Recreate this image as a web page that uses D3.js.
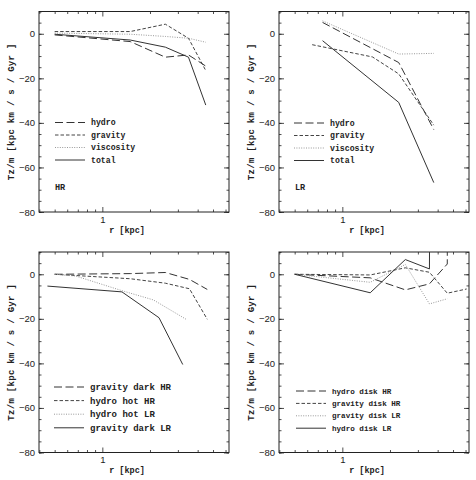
<!DOCTYPE html>
<html>
<head>
<meta charset="utf-8">
<script src="https://cdn.jsdelivr.net/npm/d3@7"></script>
<style>
body { margin: 0; background: #fff; }
.tick text { font-family: "Liberation Sans", Arial, sans-serif; font-size: 9.5px; fill: #222; }
.tick line { stroke: #222; stroke-width: 0.8; }
.lbl { font-family: "Liberation Mono", monospace; font-weight: bold; fill: #222; }
</style>
</head>
<body>
<script>
// panel a: HR torques
var rHR = [0.5, 1.5, 2.5, 3.5, 4.5];
var hydroHR = [-0.5, -3.5, -10.5, -9.5, -14.5];
var gravityHR = [1, 1, 4.3, -2, -16.5];
var viscosityHR = [0.3, -0.2, -1.2, -2, -3.8];
var totalHR = [-0.2, -2.8, -6, -10.5, -32];

// panel b: LR torques
var rLR = [0.75, 2.27, 3.78];
var hydroLR = [5.1, -12.9, -43];
var viscosityLR = [5.8, -9.1, -8.8];
var totalLR = [-3.1, -30.8, -66.8];
var rGravLR = [0.645, 1.55, 2.27, 3.78];
var gravityLR = [-4.9, -10.4, -18, -41];

// panel c: dark / hot components
var rC = [0.5, 1.5, 2.5, 3.55, 4.6];
var gravDarkHR = [0, 0.3, 0.8, -2.3, -6.8];
var hydroHotHR = [0, -2, -4, -6.5, -20.2];
var rHotLR = [0.5, 0.68, 1.35, 2.1, 3.4];
var hydroHotLR = [0, -0.8, -7.5, -11.5, -20.3];
var rDarkLR = [0.45, 1.33, 2.28, 3.22];
var gravDarkLR = [-5.3, -7.9, -19.5, -40.5];

// panel d: disk components (some values run off the top)
var rD = [0.5, 1.5, 2.5, 3.55, 4.6, 4.62];
var hydroDiskHR = [0, -1.6, -7, -4.3, 4.6, 60];
var rGravDiskHR = [0.5, 1.5, 2.5, 3.55, 4.6, 6.1];
var gravityDiskHR = [0, -0.3, 2.9, 0.9, -8.5, -6.6];
var rGravDiskLR = [0.5, 1.5, 2.5, 3.55, 4.6];
var gravityDiskLR = [0, -3.6, 4.4, -13.3, -11];
var rHydroDiskLR = [0.5, 1.5, 2.5, 3.55, 3.57];
var hydroDiskLR = [0, -8.3, 6.6, 2.4, 60];

var yMajor = [-80, -60, -40, -20, 0];
var yMinor = d3.range(-80, 10.1, 5);
var xMajor = [1];
var xMinor = [0.4, 0.5, 0.6, 0.7, 0.8, 0.9, 2, 3, 4, 5, 6];

var W = 476, H = 480;
var pw = 190, ph = 200.5;
var lefts = [39, 279], tops = [11.5, 252];

var styles = {
	long: { dash: "8,3.5", color: "#333" },
	short: { dash: "3.5,2", color: "#444" },
	dot: { dash: "1,1.4", color: "#999" },
	solid: { dash: null, color: "#333" }
};

var panels = [
	{ col: 0, row: 0, tag: "HR", fs: 8.2, legTop: 111, legStep: 12.5, legX: 16, series: [
		{ name: "hydro", r: rHR, v: hydroHR, s: "long" },
		{ name: "gravity", r: rHR, v: gravityHR, s: "short" },
		{ name: "viscosity", r: rHR, v: viscosityHR, s: "dot" },
		{ name: "total", r: rHR, v: totalHR, s: "solid" }] },
	{ col: 1, row: 0, tag: "LR", fs: 8.2, legTop: 111.5, legStep: 12.5, legX: 15, series: [
		{ name: "hydro", r: rLR, v: hydroLR, s: "long" },
		{ name: "gravity", r: rGravLR, v: gravityLR, s: "short" },
		{ name: "viscosity", r: rLR, v: viscosityLR, s: "dot" },
		{ name: "total", r: rLR, v: totalLR, s: "solid" }] },
	{ col: 0, row: 1, tag: "", fs: 9, legTop: 135, legStep: 13.6, legX: 15, series: [
		{ name: "gravity dark HR", r: rC, v: gravDarkHR, s: "long" },
		{ name: "hydro hot HR", r: rC, v: hydroHotHR, s: "short" },
		{ name: "hydro hot LR", r: rHotLR, v: hydroHotLR, s: "dot" },
		{ name: "gravity dark LR", r: rDarkLR, v: gravDarkLR, s: "solid" }] },
	{ col: 1, row: 1, tag: "", fs: 7.6, legTop: 139, legStep: 12.4, legX: 17, series: [
		{ name: "hydro disk HR", r: rD, v: hydroDiskHR, s: "long" },
		{ name: "gravity disk HR", r: rGravDiskHR, v: gravityDiskHR, s: "short" },
		{ name: "gravity disk LR", r: rGravDiskLR, v: gravityDiskLR, s: "dot" },
		{ name: "hydro disk LR", r: rHydroDiskLR, v: hydroDiskLR, s: "solid" }] }
];

var svg = d3.select("body").append("svg")
	.attr("width", W)
	.attr("height", H);

var xScale = d3.scaleLog().domain([Math.pow(10, -0.4), Math.pow(10, 0.8)]).range([0, pw]);
var yScale = d3.scaleLinear().domain([-80, 10]).range([ph, 0]);

var line = d3.line()
	.x(function(d) { return xScale(d[0]); })
	.y(function(d) { return yScale(d[1]); });

panels.forEach(function(p, i) {
	var g = svg.append("g")
		.attr("transform", "translate(" + lefts[p.col] + "," + tops[p.row] + ")");

	g.append("clipPath").attr("id", "clip" + i)
		.append("rect").attr("width", pw).attr("height", ph);

	// ticks on all four sides, pointing inward
	function ax(gen, vals, size, fmt, tr) {
		var a = gen.tickValues(vals).tickSize(-size).tickPadding(4);
		if (fmt !== null) a.tickFormat(fmt);
		var s = g.append("g").attr("transform", tr).call(a);
		s.select(".domain").remove();
		return s;
	}
	ax(d3.axisBottom(xScale), xMajor, 5, d3.format("d"), "translate(0," + ph + ")");
	ax(d3.axisBottom(xScale), xMinor, 2.5, "", "translate(0," + ph + ")");
	ax(d3.axisTop(xScale), xMajor, 5, "", "translate(0,0)");
	ax(d3.axisTop(xScale), xMinor, 2.5, "", "translate(0,0)");
	ax(d3.axisLeft(yScale), yMajor, 5, null, "translate(0,0)");
	ax(d3.axisLeft(yScale), yMinor, 2.5, "", "translate(0,0)");
	ax(d3.axisRight(yScale), yMajor, 5, "", "translate(" + pw + ",0)");
	ax(d3.axisRight(yScale), yMinor, 2.5, "", "translate(" + pw + ",0)");

	g.append("rect")
		.attr("width", pw).attr("height", ph)
		.attr("fill", "none").attr("stroke", "#222").attr("stroke-width", 1);

	var plot = g.append("g").attr("clip-path", "url(#clip" + i + ")");
	p.series.forEach(function(se) {
		var st = styles[se.s];
		plot.append("path")
			.datum(d3.zip(se.r, se.v))
			.attr("d", line)
			.attr("fill", "none")
			.attr("stroke", st.color)
			.attr("stroke-width", 1)
			.attr("stroke-dasharray", st.dash);
	});

	// legend
	var leg = g.append("g");
	p.series.forEach(function(se, j) {
		var st = styles[se.s];
		var yy = p.legTop + j * p.legStep;
		leg.append("line")
			.attr("x1", p.legX).attr("x2", p.legX + 30)
			.attr("y1", yy).attr("y2", yy)
			.attr("stroke", st.color).attr("stroke-width", 1)
			.attr("stroke-dasharray", st.dash);
		leg.append("text").attr("class", "lbl")
			.attr("x", p.legX + 36).attr("y", yy)
			.attr("dy", "0.35em")
			.style("font-size", p.fs + "px")
			.text(se.name);
	});

	if (p.tag) {
		g.append("text").attr("class", "lbl")
			.attr("x", 16).attr("y", 176)
			.attr("dy", "0.35em")
			.style("font-size", "8.5px")
			.text(p.tag);
	}

	g.append("text").attr("class", "lbl")
		.attr("x", 88).attr("y", ph + 18)
		.attr("dy", "0.35em")
		.attr("text-anchor", "middle")
		.style("font-size", "8.5px")
		.text("r [kpc]");

	g.append("text").attr("class", "lbl")
		.attr("transform", "translate(-28.5," + (ph / 2) + ") rotate(-90)")
		.attr("dy", "0.35em")
		.attr("text-anchor", "middle")
		.style("font-size", "9px")
		.style("letter-spacing", "0.3px")
		.text("Tz/m [kpc km / s / Gyr ]");
});
</script>
</body>
</html>
